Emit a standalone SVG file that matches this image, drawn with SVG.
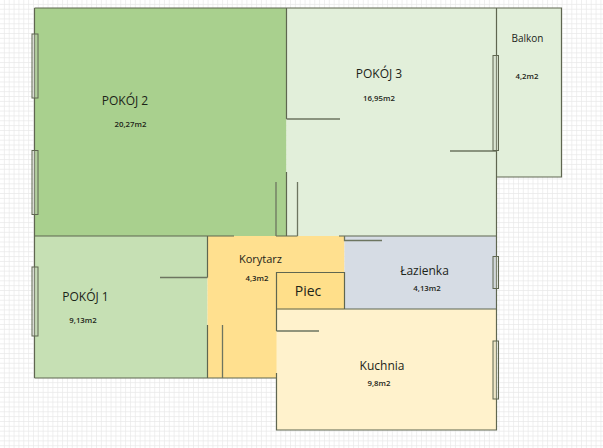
<svg xmlns="http://www.w3.org/2000/svg" width="603" height="448" viewBox="0 0 603 448">
<defs>
<pattern id="grid" width="4.85" height="4.85" patternUnits="userSpaceOnUse" x="0" y="0"><path d="M4.85 0V4.85M0 4.85H4.85" fill="none" stroke="#e9e9e9" stroke-width="1.4"/></pattern>
</defs>
<style>
.w{stroke:#5f6650;stroke-width:1.2;fill:none}
.d{stroke:#6d7560;stroke-width:1.3;fill:none}
.win{stroke:#5f6650;stroke-width:1;fill:#c8ccc0;fill-opacity:.3}
.t{font-family:"Open Sans","Liberation Sans",sans-serif;fill:#1c2418}
.n{font-size:12px}
.a{font-size:7.8px;font-weight:600}
</style>
<rect width="603" height="448" fill="#fff"/>
<rect width="603" height="448" fill="url(#grid)"/>
<g id="room-pokoj2"><rect x="34.500" y="8" width="252" height="228" fill="#a9d08e"/><text class="t n" x="125" y="105" text-anchor="middle">POKÓJ 2</text><text class="t a" x="130.500" y="127" text-anchor="middle">20,27m2</text></g>
<g id="room-pokoj3"><rect x="286.500" y="8" width="210" height="228" fill="#e2efda"/><text class="t n" x="379" y="78" text-anchor="middle">POKÓJ 3</text><text class="t a" x="379" y="101" text-anchor="middle">16,95m2</text></g>
<g id="room-balkon"><rect x="496.500" y="8" width="65" height="169" fill="#e2efda"/><text class="t" font-size="10" x="527.500" y="42" text-anchor="middle">Balkon</text><text class="t a" x="527" y="79" text-anchor="middle">4,2m2</text></g>
<g id="room-pokoj1"><rect x="34.500" y="236" width="173" height="142" fill="#c6e0b4"/><text class="t n" x="85.500" y="301" text-anchor="middle">POKÓJ 1</text><text class="t a" x="83" y="323" text-anchor="middle">9,13m2</text></g>
<g id="room-korytarz"><rect x="207.500" y="236" width="137" height="142" fill="#ffe08f"/><text class="t" font-size="11" x="260.500" y="263" text-anchor="middle">Korytarz</text><text class="t a" x="257" y="281" text-anchor="middle">4,3m2</text></g>
<g id="room-lazienka"><rect x="344.500" y="236" width="152" height="73" fill="#d6dce4"/><text class="t n" x="424.500" y="275" text-anchor="middle">Łazienka</text><text class="t a" x="427" y="291" text-anchor="middle">4,13m2</text></g>
<g id="room-kuchnia"><rect x="276.500" y="309" width="220" height="121" fill="#fff2cc"/><text class="t n" x="382" y="370" text-anchor="middle">Kuchnia</text><text class="t a" x="379" y="386" text-anchor="middle">9,8m2</text></g>
<g id="room-piec"><rect x="276.500" y="272.500" width="68" height="37" fill="#ffdf8a"/><text class="t" font-size="14" x="308" y="296" text-anchor="middle">Piec</text></g>
<g id="connectors">
<path class="w" d="M34.500 8H561.500V177H496.500M496.500 8V430H276.500V373M276.500 331V272.500H344.500V309M34.500 378H276.500M34.500 378V8M34.500 236H234M276 236H297.500M339 236H496.500M207.500 236V277.500M207.500 325V378M286.500 8V119M286.500 172V236M276.500 309H496.500"/>
<path class="d" d="M286.500 119H340M450 151H496.500M160 277.500H207.500M276 182V236M297.500 182V236M344.500 236V240.500H382M222.500 325V378M276.500 331H319"/>
<g>
<rect class="win" x="32" y="34" width="6" height="64"/><rect class="win" x="32" y="150.500" width="6" height="64"/><rect class="win" x="32" y="267" width="6" height="69"/>
<rect class="win" x="493" y="55.500" width="5.500" height="95"/><rect class="win" x="493" y="256.500" width="5.500" height="32"/><rect class="win" x="493" y="341" width="5.500" height="58"/>
</g>
</g>
</svg>
